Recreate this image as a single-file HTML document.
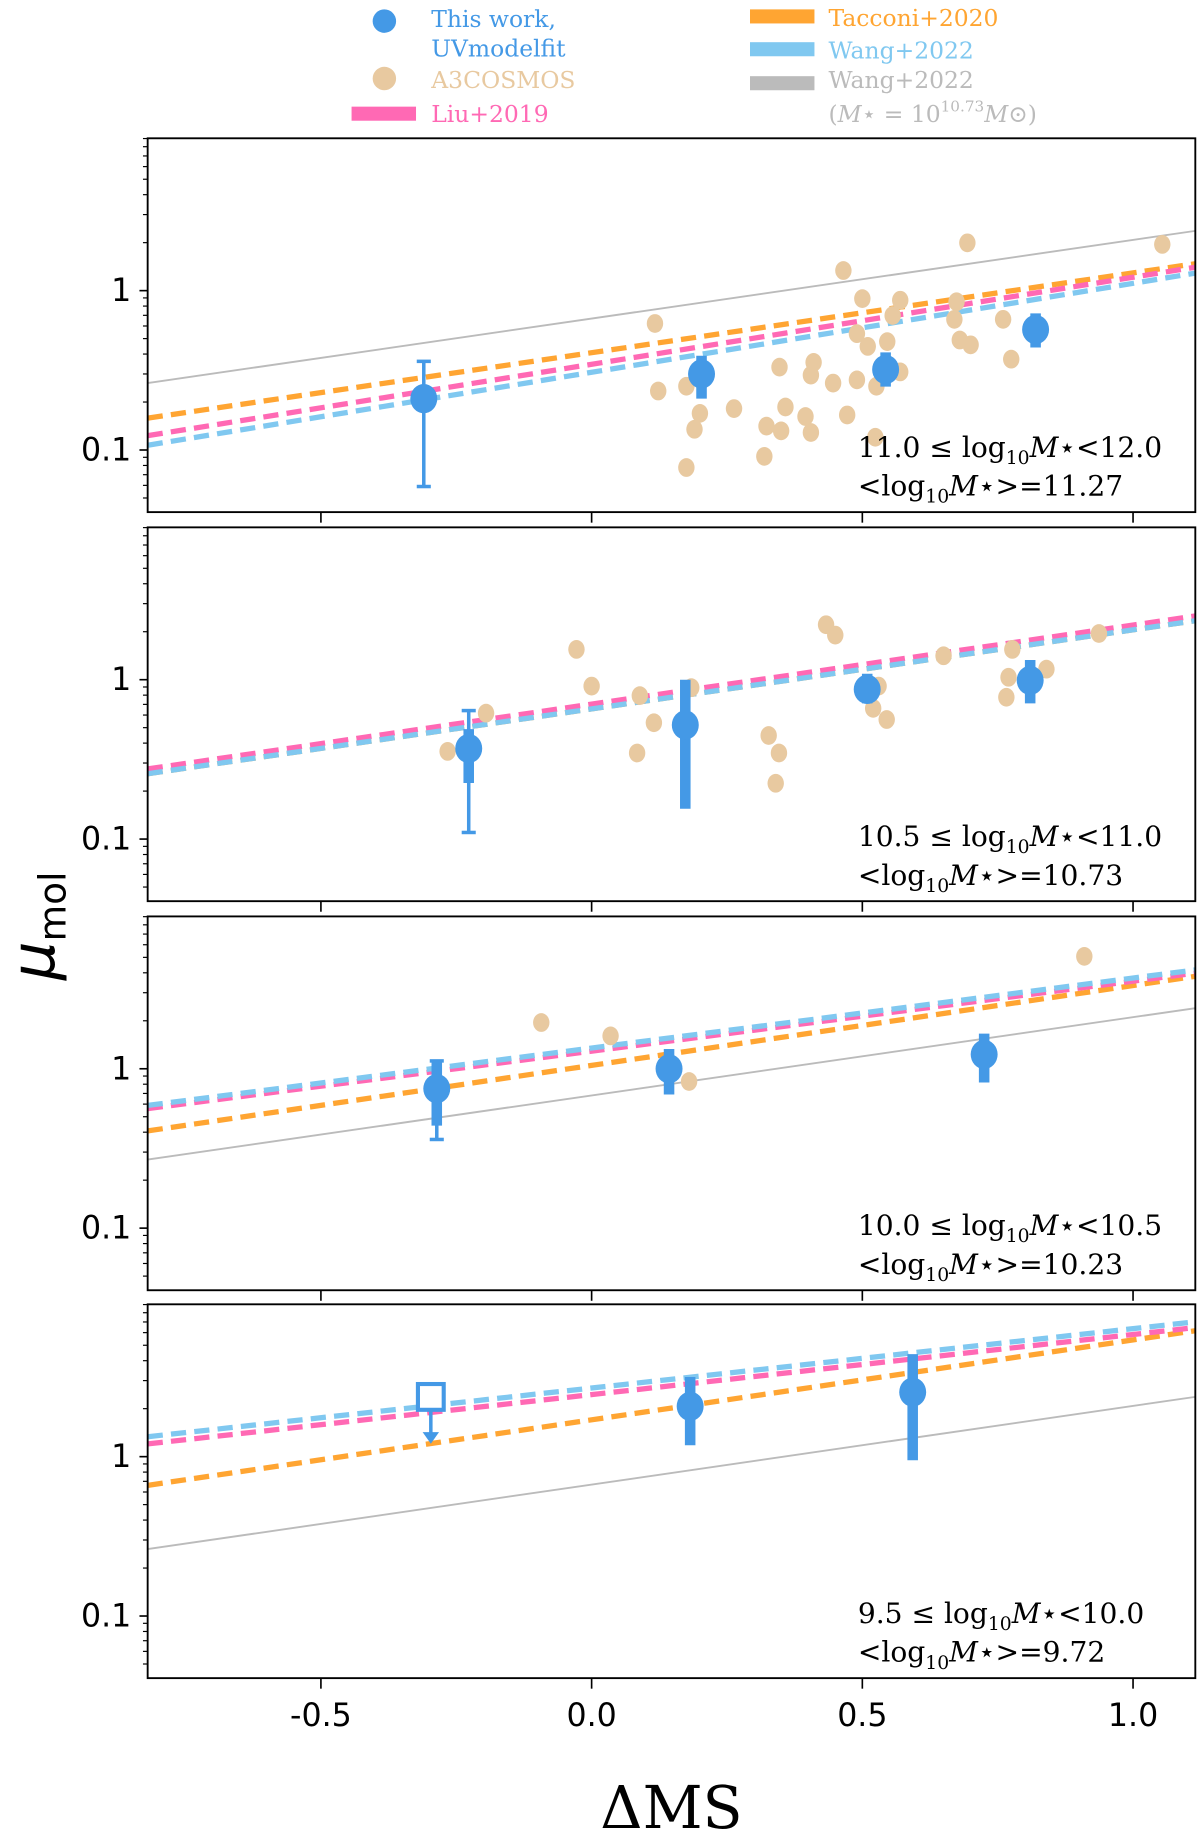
<!DOCTYPE html>
<html><head><meta charset="utf-8"><style>
html,body{margin:0;padding:0;background:#fff}
svg{display:block}
text{font-family:"DejaVu Sans","Liberation Sans",sans-serif}
.serif{font-family:"DejaVu Serif","Liberation Serif",serif}
</style></head><body>
<svg id="chart" width="1200" height="1834" viewBox="0 0 1024 1565" xmlns="http://www.w3.org/2000/svg">
<g id="legend" class="serif">
 <g><circle cx="328" cy="18" r="10" fill="#4499e6"/><text class="serif" x="368" y="23" font-size="20" fill="#4499e6">This work,</text><text class="serif" x="368" y="48" font-size="20" fill="#4499e6">UVmodelfit</text></g>
 <g><circle cx="328" cy="67" r="10" fill="#e8c9a0"/><text class="serif" x="368" y="75" font-size="20" fill="#e8c9a0">A3COSMOS</text></g>
 <g><rect x="300" y="91" width="55" height="12" fill="#ff69b4"/><text class="serif" x="368" y="104" font-size="20" fill="#ff69b4">Liu+2019</text></g>
 <g><rect x="640" y="8" width="55" height="12" fill="#ffa532"/><text class="serif" x="707" y="22" font-size="20" fill="#ffa532">Tacconi+2020</text></g>
 <g><rect x="640" y="36" width="55" height="12" fill="#80c8f0"/><text class="serif" x="707" y="50" font-size="20" fill="#80c8f0">Wang+2022</text></g>
 <g><rect x="640" y="65" width="55" height="12" fill="#bbbbbb"/><text class="serif" x="707" y="75" font-size="20" fill="#bbbbbb">Wang+2022</text><text class="serif" x="707" y="104" font-size="20" fill="#bbbbbb">(<tspan font-style="italic">M</tspan>⋆ = 10<tspan font-size="13" dy="-9">10.73</tspan><tspan dy="9" font-style="italic">M</tspan>⊙)</text></g>
</g>
<text transform="translate(46,790) rotate(-90)" font-size="52" text-anchor="middle" font-style="italic">μ<tspan font-style="normal" font-size="32" dy="10">mol</tspan></text>
<text class="serif" x="573" y="1560" font-size="50" text-anchor="middle">ΔMS</text>
<g id="plots"></g>
</svg>
<script>
// ---- data ----
const panelLabels = [["11.0","12.0","11.27"],["10.5","11.0","10.73"],["10.0","10.5","10.23"],["9.5","10.0","9.72"]];
const xTicks = [-0.5, 0.0, 0.5, 1.0];
const xTickLabels = ["-0.5","0.0","0.5","1.0"];
const yTicks = [0.1, 1];
const yTickLabels = ["0.1","1"];
const lineX = [-0.82, 1.115];
// log10(mu) at lineX endpoints, per panel
const tacconiLog = [[-0.80,0.169],[-0.59,0.37],[-0.39,0.58],[-0.18,0.79]];
const liuLog     = [[-0.91,0.147],[-0.56,0.40],[-0.25,0.60],[0.08,0.81]];
const wangLog    = [[-0.97,0.11],[-0.59,0.37],[-0.23,0.62],[0.125,0.846]];
const wangFixLog = [[-0.58,0.375],[-0.59,0.37],[-0.57,0.38],[-0.58,0.375]];
// this work: [x, mu, thickLo, thickHi, thinLo, thinHi]
const thisWork = [
 [[-0.31,0.21,null,null,0.059,0.36],[0.203,0.30,0.21,0.39,null,null],[0.543,0.32,0.25,0.41,null,null],[0.82,0.57,0.44,0.72,null,null]],
 [[-0.227,0.37,0.225,0.49,0.11,0.64],[0.173,0.52,0.155,1.0,null,null],[0.509,0.87,0.71,1.09,null,null],[0.81,0.99,0.71,1.33,null,null]],
 [[-0.286,0.75,0.44,1.12,0.36,1.12],[0.143,1.0,0.69,1.33,null,null],[0.725,1.23,0.82,1.66,null,null]],
 [[0.182,2.07,1.18,3.16,null,null],[0.593,2.54,0.95,4.4,null,null]]
];
const upperLimitX = [null,null,null,-0.297];
const upperLimitMu = [null,null,null,2.37];
// A3COSMOS: [x, log10 mu]
const a3cosmos = [
 [[0.117,-0.206],[0.123,-0.63],[0.175,-0.60],[0.20,-0.77],[0.19,-0.87],[0.175,-1.11],[0.263,-0.74],[0.347,-0.48],[0.323,-0.85],[0.35,-0.88],[0.358,-0.73],[0.319,-1.04],[0.395,-0.79],[0.405,-0.89],[0.41,-0.45],[0.405,-0.53],[0.446,-0.58],[0.465,0.126],[0.472,-0.78],[0.50,-0.05],[0.57,-0.06],[0.49,-0.27],[0.51,-0.35],[0.546,-0.32],[0.49,-0.56],[0.526,-0.60],[0.57,-0.51],[0.556,-0.156],[0.524,-0.92],[0.674,-0.07],[0.67,-0.18],[0.68,-0.31],[0.70,-0.34],[0.694,0.30],[0.76,-0.18],[0.775,-0.43],[1.054,0.29]],
 [[-0.266,-0.45],[-0.195,-0.21],[-0.028,0.19],[0.0,-0.04],[0.089,-0.10],[0.115,-0.27],[0.084,-0.46],[0.184,-0.05],[0.327,-0.35],[0.346,-0.46],[0.34,-0.65],[0.433,0.345],[0.45,0.28],[0.53,-0.04],[0.52,-0.18],[0.545,-0.25],[0.65,0.15],[0.777,0.19],[0.77,0.015],[0.766,-0.11],[0.84,0.066],[0.937,0.29]],
 [[-0.093,0.29],[0.035,0.206],[0.18,-0.08],[0.91,0.705]],
 []
];
// ---- drawing ----
const NS="http://www.w3.org/2000/svg";
const root=document.getElementById('plots');
const X0=126,X1=1020, xmin=-0.82, xmax=1.115;
const X=v=>X0+(v-xmin)/(xmax-xmin)*(X1-X0);
const ones=[248,580,912,1243];
const DEC=136;
function mk(tag,attrs,parent){const e=document.createElementNS(NS,tag);for(const k in attrs)e.setAttribute(k,attrs[k]);(parent||root).appendChild(e);return e;}
for(let p=0;p<4;p++){
 const Y=mu=>ones[p]-DEC*Math.log10(mu);
 const YL=l=>ones[p]-DEC*l;
 const top=ones[p]-130, bot=ones[p]+189;
 const g=mk('g',{});
 
 
 const cp=mk('clipPath',{id:'cp'+p},g);mk('rect',{x:X0,y:top,width:X1-X0,height:bot-top},cp);
 const pg=mk('g',{'clip-path':'url(#cp'+p+')'},g);
 const lines=[[wangFixLog,'#bbbbbb',1.6,null,'wang2022-fixed-mass-line'],[tacconiLog,'#ffa532',4.5,'13 7','tacconi2020-line'],[liuLog,'#ff69b4',4.5,'13 7','liu2019-line'],[wangLog,'#80c8f0',4.5,'13 7','wang2022-line']];
 for(const [arr,c,w,d,name] of lines){
  if(p===1&&name==='wang2022-fixed-mass-line')continue;
  const l=mk('line',{x1:X(lineX[0]),y1:YL(arr[p][0]),x2:X(lineX[1]),y2:YL(arr[p][1]),stroke:c,'stroke-width':w},pg);
  if(d)l.setAttribute('stroke-dasharray',d);
  
  
 }
 for(const [x,l] of a3cosmos[p]){
  const c=mk('ellipse',{cx:X(x),cy:YL(l),rx:7,ry:8,fill:'#e8c9a0'},pg);
  
  
 }
 for(const [x,mu,tlo,thi,nlo,nhi] of thisWork[p]){
  const gg=mk('g',{},pg);
  
  
  const cx=X(x);
  if(nlo!==null){
   mk('line',{x1:cx,x2:cx,y1:Y(nlo),y2:Y(nhi),stroke:'#4499e6','stroke-width':3},gg);
   mk('line',{x1:cx-6,x2:cx+6,y1:Y(nlo),y2:Y(nlo),stroke:'#4499e6','stroke-width':3},gg);
   mk('line',{x1:cx-6,x2:cx+6,y1:Y(nhi),y2:Y(nhi),stroke:'#4499e6','stroke-width':3},gg);
  }
  if(tlo!==null) mk('line',{x1:cx,x2:cx,y1:Y(tlo),y2:Y(thi),stroke:'#4499e6','stroke-width':9},gg);
  mk('ellipse',{cx:cx,cy:Y(mu),rx:11.5,ry:12.5,fill:'#4499e6'},gg);
 }
 if(upperLimitX[p]!==null){
  const ux=X(upperLimitX[p]), uy=Y(upperLimitMu[p]);
  const gg=mk('g',{},pg);
  
  
  mk('line',{x1:ux,x2:ux,y1:uy,y2:uy+32,stroke:'#4499e6','stroke-width':3},gg);
  mk('path',{d:`M${ux-7},${uy+30} L${ux+7},${uy+30} L${ux},${uy+40} Z`,fill:'#4499e6'},gg);
  mk('rect',{x:ux-11,y:uy-11,width:22,height:22,fill:'#fff',stroke:'#4499e6','stroke-width':3.5},gg);
 }
 const fr=mk('rect',{x:X0,y:top,width:X1-X0,height:bot-top,fill:'none',stroke:'#000','stroke-width':1.6},g);
 
 
 for(let e=-2;e<=0;e++)for(let m=1;m<10;m++){
  const v=m*Math.pow(10,e); const yy=Y(v); if(yy<top||yy>bot)continue;
  const major=m===1;
  mk('line',{x1:X0,x2:X0-(major?7:4),y1:yy,y2:yy,stroke:'#000','stroke-width':major?1.4:1},g);
 }
 yTicks.forEach((v,i)=>{
  const t=mk('text',{x:X0-14,y:Y(v)+9,'font-size':27,'text-anchor':'end'},g);
  t.textContent=yTickLabels[i];
  
  
 });
 xTicks.forEach(v=>mk('line',{x1:X(v),x2:X(v),y1:bot,y2:bot+9,stroke:'#000','stroke-width':1.4},g));
 if(p===3) xTicks.forEach((v,i)=>{
  const t=mk('text',{x:X(v),y:bot+41,'font-size':27,'text-anchor':'middle'},g);
  t.textContent=xTickLabels[i];
  
  
 });
 const L=panelLabels[p];
 const t1=mk('text',{x:732,y:bot-47,'font-size':24,'class':'serif'},g);
 t1.innerHTML=`${L[0]} ≤ log<tspan font-size="16" dy="6">10</tspan><tspan dy="-6" font-style="italic">M</tspan>⋆&lt;${L[1]}`;
 
 
 const t2=mk('text',{x:732,y:bot-14,'font-size':24,'class':'serif'},g);
 t2.innerHTML=`&lt;log<tspan font-size="16" dy="6">10</tspan><tspan dy="-6" font-style="italic">M</tspan>⋆&gt;=${L[2]}`;
 
 
}
</script>
</body></html>
